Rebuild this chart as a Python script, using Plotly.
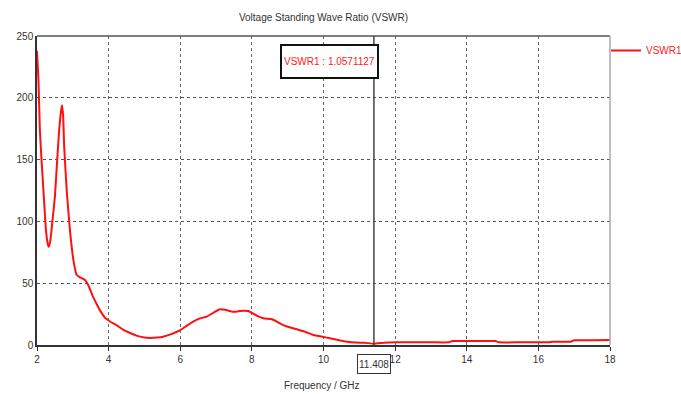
import plotly.graph_objects as go

freq_ghz = [2.0, 2.04, 2.08, 2.13, 2.18, 2.25, 2.30, 2.33, 2.37, 2.43, 2.50, 2.56, 2.62, 2.67, 2.70,
            2.73, 2.76, 2.83, 2.92, 3.02, 3.11, 3.22, 3.34, 3.43, 3.55, 3.67, 3.78, 3.90, 4.04, 4.22,
            4.40, 4.60, 4.80, 5.00, 5.16, 5.35, 5.52, 5.75, 6.00, 6.18, 6.36, 6.55, 6.74, 6.92, 7.11,
            7.25, 7.44, 7.60, 7.76, 7.90, 8.00, 8.15, 8.32, 8.56, 8.75, 8.93, 9.25, 9.50, 9.72, 10.0,
            10.18, 10.40, 10.65, 10.90, 11.15, 11.408, 11.7, 12.0, 12.5, 13.0, 13.5, 13.6, 14.0,
            14.5, 14.8, 14.9, 15.5, 16.0, 16.3, 16.4, 16.9, 17.0, 17.5, 18.0]
vswr = [238, 215, 174, 148, 125, 93, 82, 79.5, 84, 100, 120, 148, 174, 189, 194,
        185, 160, 125, 93, 68, 56.6, 54.5, 52.6, 48.5, 40, 33, 27, 22, 19, 16,
        12.5, 9.7, 7.4, 6.0, 5.7, 6.0, 6.7, 8.8, 12, 15.5, 19, 21.5, 23, 26, 28.9,
        28.5, 27, 27.2, 27.8, 27.5, 26, 23.5, 21.6, 20.8, 18, 15.4, 12.7, 10.5, 8.1, 6.5,
        5.4, 4.0, 2.7, 2.0, 1.8, 1.0571127, 1.9, 2.2, 2.2, 2.2, 2.2, 3.2, 3.2,
        3.2, 3.2, 2.2, 2.2, 2.2, 2.2, 2.7, 2.7, 3.8, 3.8, 4.0]

x_ticks = [2, 4, 6, 8, 10, 12, 14, 16, 18]
y_ticks = [0, 50, 100, 150, 200, 250]
marker_freq = 11.408
marker_label = "VSWR1 : 1.0571127"
marker_xlabel = "11.408"

FONT = "Liberation Sans, Arial, sans-serif"
FS = 10

fig = go.Figure()
fig.add_trace(go.Scatter(
    x=freq_ghz, y=vswr, mode="lines", name="VSWR1",
    line=dict(color="#ff1010", width=2, shape="spline", smoothing=0.5),
))

fig.update_layout(
    width=681, height=394,
    margin=dict(l=37, r=71, t=36, b=49, autoexpand=False),
    paper_bgcolor="white", plot_bgcolor="white",
    font=dict(family=FONT, size=FS, color="#333333"),
    title=dict(text="Voltage Standing Wave Ratio (VSWR)", x=0.475, xanchor="center",
               y=1 - 17 / 394, yanchor="middle",
               font=dict(family=FONT, size=FS, color="#333333")),
    showlegend=True,
    legend=dict(x=0.993, xanchor="left", y=1.0, yanchor="top", bgcolor="rgba(0,0,0,0)",
                font=dict(family=FONT, size=FS, color="#ff2020"),
                itemwidth=30, tracegroupgap=0),
)

fig.update_xaxes(
    range=[2, 18], tickvals=x_ticks, ticktext=[str(v) for v in x_ticks],
    showgrid=True, gridcolor="#666666", griddash="3px,3px", gridwidth=1,
    showline=True, linecolor="#333333", linewidth=1.5,
    ticks="outside", ticklen=4, tickcolor="#333333",
    zeroline=False, tickfont=dict(family=FONT, size=FS, color="#333333"),
)
fig.update_yaxes(
    range=[0, 250], tickvals=y_ticks,
    showgrid=True, gridcolor="#555555", griddash="dot", gridwidth=1,
    showline=True, linecolor="#333333", linewidth=1.5,
    ticks="", zeroline=False,
    tickfont=dict(family=FONT, size=FS, color="#333333"),
)

# frame: top and right borders
fig.add_shape(type="line", xref="paper", yref="paper", x0=0, x1=1, y0=1, y1=1,
              line=dict(color="#555555", width=1.5))
fig.add_shape(type="line", xref="paper", yref="paper", x0=1, x1=1, y0=0, y1=1,
              line=dict(color="#aaaaaa", width=1.5))

# marker line
fig.add_shape(type="line", xref="x", yref="paper", x0=marker_freq, x1=marker_freq, y0=0, y1=1,
              line=dict(color="#444444", width=1.5))

# marker value box
fig.add_annotation(x=10.18, y=229, xref="x", yref="y", text=marker_label, showarrow=False,
                   font=dict(family=FONT, size=FS, color="#ff2020"),
                   bgcolor="white", bordercolor="#111111", borderwidth=2,
                   height=27, borderpad=2)

# marker x label box
fig.add_annotation(x=marker_freq, y=-19 / 309, xref="x", yref="paper", text=marker_xlabel,
                   showarrow=False, yanchor="middle",
                   font=dict(family=FONT, size=FS, color="#333333"),
                   bgcolor="white", bordercolor="#333333", borderwidth=1,
                   height=16, borderpad=1)

# x axis title
fig.add_annotation(x=0.497, y=-40 / 309, xref="paper", yref="paper", text="Frequency / GHz",
                   showarrow=False, yanchor="middle",
                   font=dict(family=FONT, size=FS, color="#333333"))

fig.write_html("out.html")
